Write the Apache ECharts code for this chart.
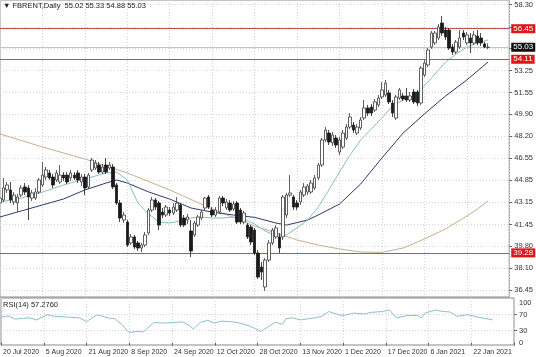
<!DOCTYPE html>
<html><head><meta charset="utf-8">
<script src="https://cdn.jsdelivr.net/npm/echarts@6/dist/echarts.min.js"></script>
<style>html,body{margin:0;padding:0;background:#fff}#c{width:536px;height:357px}</style>
</head><body><div id="c"></div>
<script>
// Daily bars: [open, close, low, high]
const ohlc = [
[43.10,43.48,42.87,43.64],[43.33,44.25,43.18,45.02],[44.10,44.48,43.87,44.71],[44.10,43.33,43.10,44.71],
[43.18,43.71,42.95,43.94],[43.10,43.56,42.41,43.79],[43.71,44.25,43.56,44.48],[44.33,43.94,43.71,44.63],
[44.25,43.56,41.80,44.48],[43.48,43.87,43.25,44.10],[43.48,43.94,43.33,44.25],[43.94,44.86,43.79,45.02],
[44.48,45.24,44.33,46.24],[45.09,45.63,44.86,45.86],[45.40,45.02,44.86,45.63],[45.09,44.48,44.25,45.32],
[44.86,45.40,44.71,45.63],[44.71,45.24,44.56,46.01],[45.24,45.02,44.79,45.47],[45.24,44.71,44.56,45.47],
[45.02,45.40,44.79,45.63],[45.24,45.02,44.86,45.47],[45.40,44.86,44.63,45.63],[44.71,45.09,44.40,45.32],
[45.09,44.25,43.71,45.32],[44.33,45.24,44.17,45.40],[45.63,46.39,45.47,46.55],[45.78,46.16,45.63,46.39],
[46.01,45.47,45.32,46.24],[45.47,45.86,45.32,46.09],[46.01,45.47,45.32,46.55],[45.78,46.01,45.63,46.24],
[45.86,44.33,44.17,46.09],[44.48,43.10,42.95,44.63],[43.10,41.95,41.64,43.33],[41.80,42.18,41.57,42.41],
[41.64,39.88,39.73,41.80],[40.04,40.50,39.88,40.73],[40.50,39.73,39.58,40.65],[40.04,39.65,39.42,40.19],
[39.65,39.88,39.35,40.04],[39.88,40.65,39.73,40.88],[40.80,42.56,40.65,42.72],[42.56,43.33,42.41,43.56],
[43.33,42.79,42.56,43.48],[43.10,41.41,41.03,43.25],[42.41,42.18,41.95,42.72],[42.18,42.79,42.03,42.95],
[42.56,42.33,42.10,42.79],[42.33,42.79,42.18,43.10],[42.56,43.10,42.41,43.56],[42.95,41.41,41.26,43.10],
[41.95,41.41,41.26,42.18],[41.80,42.03,41.49,42.26],[40.96,39.42,38.96,41.80],[40.65,41.57,40.50,41.72],
[41.41,42.03,41.26,42.18],[41.95,42.41,41.80,42.56],[42.72,43.48,42.56,43.56],[43.56,42.79,42.64,43.71],
[42.56,42.18,42.03,42.79],[42.18,42.56,42.03,42.79],[42.41,43.48,42.26,43.64],[43.48,43.10,42.87,43.64],
[42.72,43.18,42.56,43.41],[43.10,42.56,42.41,43.33],[42.64,43.02,42.49,43.25],[43.10,41.64,41.49,43.25],
[42.56,41.64,41.49,42.72],[41.64,42.33,41.49,42.49],[41.41,40.50,40.34,41.57],[41.26,40.11,39.88,41.41],
[41.03,39.27,39.12,41.19],[39.27,37.43,37.28,39.50],[38.20,37.81,37.20,38.58],[36.67,38.73,36.36,38.89],
[38.73,40.04,38.58,40.27],[40.04,41.03,39.88,41.19],[40.50,41.19,40.34,41.41],[40.50,39.65,39.27,40.80],
[40.50,43.56,40.27,43.71],[42.18,43.71,41.95,43.87],[43.71,43.87,43.56,45.24],[43.56,42.79,42.56,43.71],
[43.10,42.79,42.56,43.33],[43.18,43.94,42.95,44.10],[43.71,44.33,43.56,44.63],[43.94,44.40,43.71,44.56],
[43.94,44.63,43.79,44.86],[44.25,45.02,44.10,45.24],[45.02,46.01,44.86,46.16],[46.01,47.93,45.86,48.08],
[47.93,48.69,47.77,48.92],[48.46,47.77,47.54,48.69],[47.70,48.31,47.47,48.54],[48.08,47.54,47.31,48.31],
[47.01,47.93,46.78,48.16],[47.39,48.46,47.24,48.69],[48.08,48.92,47.93,49.15],[48.92,49.69,48.77,49.99],
[49.07,48.69,48.46,49.30],[48.46,48.92,48.31,49.15],[48.85,49.46,48.69,49.69],[49.61,50.38,49.46,50.99],
[50.38,49.99,49.76,50.61],[50.45,49.99,49.76,50.68],[50.22,50.84,50.07,51.07],[50.61,51.14,50.45,51.37],
[51.22,51.76,51.07,52.37],[51.37,52.29,51.22,52.52],[51.53,50.84,50.68,51.76],[50.76,49.99,49.69,50.99],
[49.61,51.22,49.46,51.37],[51.14,51.76,50.99,51.91],[51.30,51.07,50.91,51.53],[51.30,50.99,50.84,51.91],
[50.99,51.30,50.84,51.60],[51.60,50.84,50.68,51.83],[51.60,50.76,50.53,51.76],[50.76,53.44,50.61,53.59],
[52.90,53.82,52.75,54.05],[53.67,54.82,53.52,54.97],[55.05,56.12,54.90,56.28],[55.36,56.12,55.20,56.28],
[55.74,56.58,55.59,56.81],[56.89,56.12,55.89,57.42],[56.35,55.82,55.59,56.58],[56.35,54.97,54.82,56.51],
[55.05,54.67,54.44,55.28],[54.67,55.43,54.51,55.59],[55.05,55.74,54.90,56.35],[56.12,55.82,55.59,56.35],
[55.36,55.97,55.20,56.20],[55.74,55.36,54.59,56.12],[55.36,55.97,55.20,56.28],[55.89,55.36,55.20,56.35],
[55.74,55.36,55.13,56.12],[55.28,55.05,54.97,55.43],[55.02,55.03,54.88,55.33]
];
// Moving averages: [bar index, value]
const maFast = [[0,43.18],[6,43.48],[12,43.94],[18,44.48],[24,44.94],[30,45.40],[33,45.47],[36,44.86],[39,43.10],[42,42.26],[45,41.64],[48,41.57],[51,41.72],[54,41.95],[57,42.03],[60,41.95],[63,41.95],[66,42.03],[69,41.87],[72,41.49],[75,40.96],[78,40.57],[81,40.65],[84,41.19],[87,41.80],[90,42.79],[93,44.10],[96,45.47],[99,46.78],[102,47.93],[105,48.77],[108,49.61],[111,50.53],[114,50.99],[117,51.30],[120,52.06],[123,52.98],[126,53.90],[129,54.51],[132,55.05],[135,55.36],[138,55.59]];
const maMid = [[0,42.03],[6,42.49],[12,42.95],[18,43.41],[24,44.10],[30,44.63],[33,44.86],[36,44.63],[42,43.95],[48,43.40],[54,42.72],[60,42.40],[66,42.18],[72,42.00],[78,41.57],[81,41.41],[84,41.60],[87,41.80],[90,42.18],[96,43.02],[102,44.56],[108,46.55],[114,48.46],[120,49.92],[126,51.30],[132,52.52],[138,53.90]];
const maSlow = [[0,48.39],[12,47.39],[24,46.47],[36,45.40],[48,44.10],[60,42.64],[72,41.34],[84,40.27],[90,39.88],[96,39.58],[102,39.35],[108,39.32],[114,39.65],[120,40.34],[126,41.11],[132,42.10],[135,42.64],[138,43.25]];
const rsi = [[0,64],[2,67],[4,59],[6,61],[8,62],[10,57],[13,70],[15,66],[19,64],[22,62],[24,53],[27,70],[30,62],[32,60],[34,45],[36,25],[38,28],[40,27],[43,51],[45,49],[48,50],[51,52],[53,42],[54,34],[56,51],[58,56],[60,49],[62,54],[65,52],[67,49],[70,41],[73,28],[75,40],[77,51],[79,46],[80,60],[82,62],[84,57],[88,62],[90,66],[92,78],[94,72],[96,68],[99,74],[102,72],[104,76],[107,78],[109,82],[111,62],[114,68],[117,68],[118,62],[119,74],[122,82],[124,78],[126,77],[128,66],[131,70],[133,66],[135,62],[138,57.28]];
const categories = Array.from({length: 145}, (_, i) => i);
const dateLabels = ['20 Jul 2020','5 Aug 2020','21 Aug 2020','8 Sep 2020','24 Sep 2020','12 Oct 2020','28 Oct 2020','13 Nov 2020','1 Dec 2020','17 Dec 2020','6 Jan 2021','22 Jan 2021'];
const priceGrid = [36.45,38.10,39.80,41.45,43.15,44.85,46.55,48.20,49.90,51.55,53.25,54.95,56.60,58.30];
const priceTicks = [36.45,38.10,39.80,41.45,43.15,44.85,46.55,48.20,49.90,51.55,53.25,58.30];
const levels = [56.45, 54.11, 39.28];
const lastPrice = 55.03;
const rsiTicks = [0,30,70,100];
const rsiGrid = [30,70];
const titleText = '\u25BC FBRENT,Daily  55.02 55.33 54.88 55.03';
const rsiTitle = 'RSI(14) 57.2760';

const FONT = 'Liberation Sans';
const chart = echarts.init(document.getElementById('c'), null, {renderer: 'canvas'});
const every12 = (i) => i % 12 === 0;
const gridLine = {color: '#d4d4d4', type: [1, 2], width: 1};
const RED_LINE = '#c05050';

function levelSeries(value, lineColor, boxColor) {
  return {
    type: 'line', xAxisIndex: 0, yAxisIndex: 0, data: [], silent: true, z: 3,
    itemStyle: {color: lineColor}, lineStyle: {color: lineColor},
    markLine: {silent: true, symbol: 'none', animation: false,
      lineStyle: {color: lineColor, width: 1, type: 'solid', opacity: 1},
      label: {show: true, position: 'end', distance: 2, formatter: value.toFixed(2), color: '#fff',
        backgroundColor: boxColor, padding: [1, 2, 0, 2], fontSize: 8, fontFamily: FONT},
      data: [{yAxis: value}]}
  };
}

chart.setOption({
  animation: false,
  backgroundColor: '#fff',
  textStyle: {fontFamily: FONT},
  title: [
    {text: titleText, left: 3, top: 2, padding: 0, textStyle: {fontSize: 7.5, fontWeight: 'normal', color: '#222', fontFamily: FONT}},
    {text: rsiTitle, left: 3, top: 301, padding: 0, textStyle: {fontSize: 7.5, fontWeight: 'normal', color: '#222', fontFamily: FONT}}
  ],
  grid: [
    {left: 0, right: 22, top: 0, height: 297, show: true, borderColor: '#8a8a8a', borderWidth: 1},
    {left: 0, right: 22, top: 298, height: 47, show: true, borderColor: '#8a8a8a', borderWidth: 1}
  ],
  xAxis: [
    {gridIndex: 0, type: 'category', data: categories, boundaryGap: false,
     axisLine: {show: false}, axisTick: {show: false}, axisLabel: {show: false},
     splitLine: {show: true, interval: every12, lineStyle: gridLine}},
    {gridIndex: 1, type: 'category', data: categories, boundaryGap: false,
     axisLine: {show: false},
     axisTick: {show: true, interval: every12, length: 3, lineStyle: {color: '#666'}},
     axisLabel: {show: true, interval: every12, align: 'left', margin: 4, padding: [0, 0, 0, 2],
       fontSize: 7, color: '#333', fontFamily: FONT,
       formatter: (v, i) => dateLabels[Math.round(i / 12)] || ''},
     splitLine: {show: true, interval: every12, lineStyle: gridLine}}
  ],
  yAxis: [
    {gridIndex: 0, type: 'value', position: 'right', min: 35.90, max: 58.65, scale: true,
     axisLine: {show: false},
     axisTick: {show: true, customValues: priceGrid, length: 3, lineStyle: {color: '#666'}},
     axisLabel: {customValues: priceTicks, fontSize: 7.5, color: '#333', margin: 5, fontFamily: FONT,
       hideOverlap: false, formatter: v => v.toFixed(2)},
     splitLine: {show: true, lineStyle: gridLine}},
    {gridIndex: 1, type: 'value', position: 'right', min: -6, max: 112,
     axisLine: {show: false},
     axisTick: {show: true, customValues: rsiGrid, length: 3, lineStyle: {color: '#666'}},
     axisLabel: {customValues: rsiTicks, fontSize: 7.5, color: '#333', margin: 5, fontFamily: FONT, hideOverlap: false},
     splitLine: {show: true, lineStyle: gridLine}}
  ],
  series: [
    levelSeries(levels[0], RED_LINE, '#e01515'),
    levelSeries(levels[1], RED_LINE, '#e01515'),
    levelSeries(levels[2], RED_LINE, '#e01515'),
    levelSeries(lastPrice, '#c4c4c4', '#111111'),
    {type: 'line', xAxisIndex: 0, yAxisIndex: 0, data: maSlow, showSymbol: false, symbol: 'none', z: 2,
     lineStyle: {color: '#c9ad8c', width: 1}},
    {type: 'line', xAxisIndex: 0, yAxisIndex: 0, data: maMid, showSymbol: false, symbol: 'none', z: 2,
     lineStyle: {color: '#2e3a68', width: 1}},
    {type: 'line', xAxisIndex: 0, yAxisIndex: 0, data: maFast, showSymbol: false, symbol: 'none', z: 2,
     lineStyle: {color: '#86bfbd', width: 1}},
    {type: 'candlestick', xAxisIndex: 0, yAxisIndex: 0, data: ohlc, barWidth: 3, z: 5,
     itemStyle: {color: '#ffffff', color0: '#1a1a1a', borderColor: '#3a3a3a', borderColor0: '#1a1a1a', borderWidth: 0.8}},
    {type: 'line', xAxisIndex: 1, yAxisIndex: 1, data: rsi, showSymbol: false, symbol: 'none',
     lineStyle: {color: '#8cbfd0', width: 1}}
  ]
});
</script></body></html>
